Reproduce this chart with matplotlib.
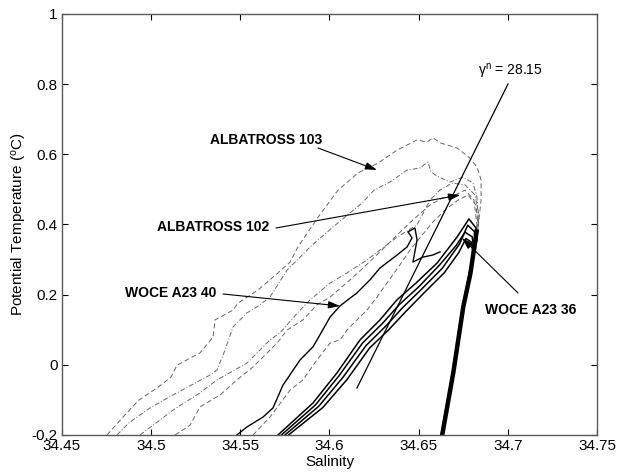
import matplotlib
matplotlib.use('Agg')
import matplotlib.pyplot as plt

plt.rcParams['font.family'] = ['Liberation Sans', 'DejaVu Sans']
plt.rcParams['mathtext.fontset'] = 'custom'
plt.rcParams['mathtext.rm'] = 'Liberation Sans'
plt.rcParams['mathtext.it'] = 'Liberation Sans:italic'

# ALBATROSS casts (dashed, grey)
alb1_s = [34.4752, 34.4842, 34.4932, 34.5033, 34.5111, 34.5145, 34.5274, 34.5347, 34.5358,
          34.5459, 34.5487, 34.5599, 34.5711, 34.5779, 34.5823, 34.5936, 34.6048, 34.6160,
          34.6272, 34.6379, 34.6491, 34.6547, 34.6580, 34.6625, 34.6715, 34.6782, 34.6827,
          34.6850, 34.6850, 34.6838, 34.6827]
alb1_t = [-0.200, -0.149, -0.100, -0.066, -0.035, -0.001, 0.034, 0.079, 0.128,
          0.156, 0.176, 0.213, 0.262, 0.293, 0.336, 0.421, 0.498, 0.547,
          0.575, 0.612, 0.641, 0.635, 0.647, 0.632, 0.618, 0.592, 0.564,
          0.527, 0.470, 0.413, 0.356]

alb2_s = [34.4808, 34.4881, 34.4993, 34.5122, 34.5257, 34.5330, 34.5369, 34.5414, 34.5459,
          34.5537, 34.5593, 34.5666, 34.5762, 34.5835, 34.5891, 34.6020, 34.6115, 34.6182,
          34.6250, 34.6339, 34.6435, 34.6507, 34.6552, 34.6569, 34.6603, 34.6676, 34.6749,
          34.6805, 34.6827, 34.6833, 34.6821]
alb2_t = [-0.200, -0.163, -0.123, -0.086, -0.049, -0.029, -0.015, 0.042, 0.108,
          0.148, 0.165, 0.193, 0.270, 0.307, 0.336, 0.393, 0.433, 0.461,
          0.498, 0.521, 0.555, 0.561, 0.578, 0.550, 0.538, 0.521, 0.535,
          0.518, 0.478, 0.421, 0.370]

alb3_s = [34.4937, 34.5050, 34.5122, 34.5274, 34.5369, 34.5537, 34.5666, 34.5722, 34.5835,
          34.5891, 34.6003, 34.6098, 34.6210, 34.6283, 34.6379, 34.6491, 34.6564, 34.6620,
          34.6687, 34.6760, 34.6816, 34.6838, 34.6827]
alb3_t = [-0.200, -0.157, -0.129, -0.080, -0.043, 0.005, 0.071, 0.091, 0.156,
          0.185, 0.233, 0.262, 0.299, 0.327, 0.364, 0.399, 0.470, 0.498,
          0.518, 0.513, 0.484, 0.427, 0.356]

alb4_s = [34.5134, 34.5218, 34.5274, 34.5386, 34.5481, 34.5571, 34.5706, 34.5762, 34.5851,
          34.5930, 34.6003, 34.6115, 34.6188, 34.6283, 34.6379, 34.6468, 34.6564, 34.6636,
          34.6704, 34.6760, 34.6810, 34.6827, 34.6816]
alb4_t = [-0.200, -0.172, -0.120, -0.086, -0.043, -0.006, 0.062, 0.099, 0.128,
          0.171, 0.193, 0.242, 0.276, 0.322, 0.370, 0.413, 0.456, 0.476,
          0.484, 0.498, 0.470, 0.399, 0.342]

alb5_s = [34.5571, 34.5666, 34.5779, 34.5851, 34.5930, 34.6003, 34.6059, 34.6098, 34.6154,
          34.6210, 34.6266, 34.6322, 34.6395, 34.6451, 34.6507, 34.6580, 34.6648, 34.6721,
          34.6777, 34.6821, 34.6833, 34.6821]
alb5_t = [-0.200, -0.149, -0.072, -0.043, 0.014, 0.062, 0.071, 0.099, 0.128,
          0.156, 0.193, 0.233, 0.285, 0.327, 0.362, 0.407, 0.441, 0.470,
          0.484, 0.456, 0.399, 0.327]

# WOCE A23 station 40 (thin solid)
w40_s = [34.5481, 34.5537, 34.5627, 34.5683, 34.5739, 34.5835, 34.5907, 34.5930, 34.6003,
         34.6059, 34.6154, 34.6227, 34.6283, 34.6379, 34.6435, 34.6463, 34.6440, 34.6479,
         34.6491, 34.6468, 34.6524, 34.6580, 34.6620]
w40_t = [-0.200, -0.177, -0.149, -0.123, -0.058, 0.014, 0.051, 0.071, 0.136,
         0.168, 0.205, 0.242, 0.276, 0.313, 0.336, 0.362, 0.379, 0.390,
         0.356, 0.293, 0.307, 0.313, 0.322]

# WOCE A23 station 36 (bundle of solid profiles)
w36a_s = [34.5711, 34.5907, 34.6042, 34.6171, 34.6283, 34.6378, 34.6485, 34.6603, 34.6715,
          34.6782, 34.6821, 34.6827, 34.6788, 34.6749, 34.6693, 34.6631]
w36a_t = [-0.200, -0.109, -0.023, 0.071, 0.128, 0.185, 0.233, 0.290, 0.364,
          0.416, 0.390, 0.356, 0.262, 0.165, -0.023, -0.200]
w36b_s = [34.5730, 34.5920, 34.6055, 34.6185, 34.6297, 34.6392, 34.6500, 34.6618, 34.6710,
          34.6760, 34.6800, 34.6810, 34.6780, 34.6745, 34.6690, 34.6628]
w36b_t = [-0.200, -0.115, -0.030, 0.062, 0.118, 0.172, 0.222, 0.285, 0.340,
          0.378, 0.365, 0.330, 0.250, 0.160, -0.025, -0.200]
w36c_s = [34.5750, 34.5940, 34.6075, 34.6205, 34.6315, 34.6410, 34.6515, 34.6632, 34.6730,
          34.6775, 34.6812, 34.6818, 34.6784, 34.6747, 34.6692, 34.6630]
w36c_t = [-0.200, -0.118, -0.036, 0.055, 0.110, 0.163, 0.215, 0.275, 0.345,
          0.398, 0.380, 0.340, 0.255, 0.162, -0.024, -0.200]
w36d_s = [34.5770, 34.5962, 34.6098, 34.6225, 34.6332, 34.6428, 34.6530, 34.6643, 34.6725,
          34.6765, 34.6795, 34.6805, 34.6778, 34.6743, 34.6688, 34.6626]
w36d_t = [-0.200, -0.122, -0.042, 0.048, 0.100, 0.152, 0.205, 0.262, 0.320,
          0.360, 0.350, 0.320, 0.245, 0.158, -0.026, -0.200]
w36deep_s = [34.6825, 34.6790, 34.6750, 34.6695, 34.6632]
w36deep_t = [0.380, 0.260, 0.165, -0.020, -0.200]

# neutral density isopycnal
gamma_s = [34.6154, 34.7001]
gamma_t = [-0.066, 0.8005]

xticks = [34.45, 34.5, 34.55, 34.6, 34.65, 34.7, 34.75]
xlabels = ['34.45', '34.5', '34.55', '34.6', '34.65', '34.7', '34.75']
yticks = [-0.2, 0, 0.2, 0.4, 0.6, 0.8, 1]
ylabels = ['-0.2', '0', '0.2', '0.4', '0.6', '0.8', '1']

fig = plt.figure(figsize=(6.2, 4.74), dpi=100)
ax = fig.add_axes([0.1, 0.0823, 0.8629, 0.8882])

grey = '0.35'
for s, t, ls in [(alb1_s, alb1_t, (0, (5, 3))), (alb2_s, alb2_t, (0, (5, 2, 1, 2))),
                 (alb3_s, alb3_t, (0, (5, 2, 1, 2))), (alb4_s, alb4_t, (0, (5, 3))),
                 (alb5_s, alb5_t, (0, (5, 3)))]:
    ax.plot(s, t, color='0.4', lw=0.7, linestyle=ls)

ax.plot(w40_s, w40_t, color='k', lw=1.0)
for s, t in [(w36a_s, w36a_t), (w36b_s, w36b_t), (w36c_s, w36c_t), (w36d_s, w36d_t)]:
    ax.plot(s, t, color='k', lw=1.1)
ax.plot(w36deep_s, w36deep_t, color='k', lw=3.2)
ax.plot(gamma_s, gamma_t, color='k', lw=0.9)

arrow = dict(arrowstyle='-|>,head_length=0.7,head_width=0.22', color='k', lw=0.8,
             shrinkA=0, shrinkB=0)
ax.annotate('', xy=(34.6266, 0.5553), xytext=(34.5936, 0.618), arrowprops=arrow)
ax.annotate('', xy=(34.6732, 0.484), xytext=(34.5700, 0.390), arrowprops=arrow)
ax.annotate('', xy=(34.6059, 0.1677), xytext=(34.5403, 0.2019), arrowprops=arrow)
ax.annotate('', xy=(34.6743, 0.3615), xytext=(34.7057, 0.2048), arrowprops=arrow)

lab = dict(fontsize=10, fontweight='bold', ha='left', va='center')
ax.text(34.533, 0.641, 'ALBATROSS 103', **lab)
ax.text(34.5033, 0.393, 'ALBATROSS 102', **lab)
ax.text(34.4853, 0.2047, 'WOCE A23 40', **lab)
ax.text(34.6872, 0.1563, 'WOCE A23 36', **lab)
ax.text(34.6833, 0.8347, r'γ$^{\rm n}$ = 28.15', fontsize=10, ha='left', va='center')

ax.set_xlim(34.45, 34.75)
ax.set_ylim(-0.2, 1)
ax.set_xticks(xticks)
ax.set_xticklabels(xlabels)
ax.set_yticks(yticks)
ax.set_yticklabels(ylabels)
ax.tick_params(direction='in', top=True, right=True, length=4, width=0.8,
               labelsize=11, pad=3, colors='k')
for sp in ax.spines.values():
    sp.set_color(grey)
    sp.set_linewidth(1.0)
ax.set_xlabel('Salinity', fontsize=11, labelpad=1)
ax.set_ylabel(r'Potential Temperature ($^{\rm o}$C)', fontsize=11, labelpad=2)

fig.savefig('out.png', dpi=100)
